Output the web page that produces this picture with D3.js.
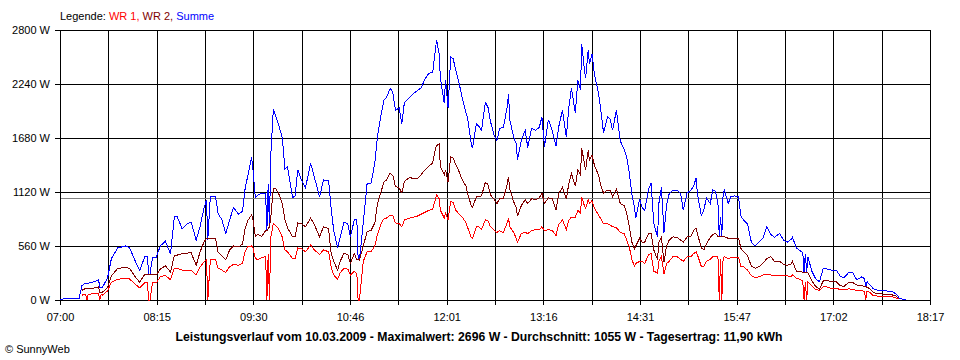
<!DOCTYPE html>
<html><head><meta charset="utf-8">
<script src="https://cdn.jsdelivr.net/npm/d3@7"></script>
<style>
body{margin:0;background:#fff}
svg{display:block}
text{font-family:"Liberation Sans",Arial,sans-serif;font-size:11px;fill:#000}
</style>
</head><body>
<svg id="chart" width="960" height="360"></svg>
<script>
// time in minutes since midnight
const times=[420,425,435,437,440,441,442,447,450,451,
452,453,457,460,465,471,474,478,482,486,
488,489,490,492,495,498,502,506,509,511,
515,518,522,526,529,532,534,535,537,541,
543,546,549,552,555,559,562,564,566,569,
570,572,574,577,580,581,582,583,584,586,
588,590,593,595,597,601,603,605,608,611,
615,618,622,625,629,631,633,636,638,641,
644,646,649,651,652,653,656,659,662,665,
667,670,672,674,677,679,681,684,686,688,
692,695,698,701,704,707,710,712,713,715,
716,719,720,722,724,726,728,730,733,736,
737,740,741,744,746,748,751,753,755,758,
760,762,765,768,769,770,773,775,776,779,
782,784,787,790,793,795,797,800,803,806,
808,811,814,816,818,821,823,825,826,828,
829,831,832,834,836,839,841,843,846,848,
850,853,856,859,861,863,865,867,868,871,
873,875,878,880,882,885,886,888,890,892,
894,897,900,903,905,908,911,913,915,916,
919,921,923,926,928,930,932,933,934,935,
936,937,940,942,945,948,950,952,955,958,
961,964,967,970,973,976,980,983,986,989,
990,993,996,998,999,1000,1001,1002,1005,1008,
1011,1014,1017,1020,1024,1027,1030,1034,1037,1040,
1044,1046,1047,1048,1050,1053,1057,1062,1067,1071,
1073,1076,1078];

const summe=[5,15,20,150,175,175,175,190,210,130,
135,130,230,430,540,560,545,420,305,450,
450,265,265,445,445,560,610,480,860,870,
740,780,810,620,760,950,1040,620,1078,1070,
900,830,690,830,960,890,920,1150,1280,1480,
1380,1060,1090,1110,1100,720,1200,760,1500,1975,
1900,1820,1680,1360,1380,1060,1080,1350,1240,1160,
1420,1270,1070,1245,1240,950,720,540,650,810,
790,655,830,830,420,415,800,1210,1210,1420,
1690,1935,2070,2100,2195,2150,1970,1990,1830,2050,
2100,2140,2170,2200,2290,2350,2360,2580,2696,2560,
2300,2040,2280,1990,2520,2500,2380,2280,2100,1935,
1900,1620,1575,1830,1800,1760,2050,2000,1850,1700,
1650,1780,1790,2000,2140,1870,1690,1620,1450,1660,
1760,1580,1780,1760,1790,1900,1590,1870,1760,1600,
1790,1970,1690,2000,2200,1935,2280,2180,2650,2400,
2300,2590,2450,2550,2330,2150,1950,1730,1900,1880,
1760,1970,1650,1560,1480,1320,1100,960,850,1050,
960,930,1150,1210,800,650,1000,1170,700,980,
1100,1140,1140,1100,930,1110,1140,1180,1265,1100,
880,930,1060,1000,1140,1130,1000,660,860,660,
1100,1140,1000,1070,1080,1070,860,830,790,600,
560,600,640,760,680,650,690,620,600,630,
650,540,510,490,285,480,285,450,300,220,
190,330,320,310,310,250,230,290,280,210,
240,220,140,190,160,115,100,95,90,60,
20,5,0];

const wr2=[null,null,null,100,120,120,120,125,135,80,
80,80,130,250,330,335,330,250,185,265,
265,265,265,262,262,320,355,290,460,465,
480,485,490,360,500,600,640,640,640,640,
500,460,415,520,560,550,580,740,820,880,
850,660,680,660,720,720,740,760,850,1160,
1150,1110,1000,830,750,655,660,800,790,760,
850,780,655,760,740,480,400,310,400,485,
470,380,480,420,420,415,560,710,720,800,
1000,1130,1220,1245,1315,1290,1180,1160,1110,1230,
1270,1260,1260,1300,1350,1390,1420,1560,1600,1620,
1380,1300,1350,1225,1485,1470,1400,1350,1245,1180,
1110,980,960,1070,1070,1080,1220,1200,1090,1040,
1000,1050,1050,1200,1280,1150,1020,960,870,980,
1040,1000,1050,1040,1060,1110,1000,1060,1050,930,
1100,1170,1050,1210,1310,1180,1350,1300,1575,1420,
1350,1550,1450,1500,1390,1300,1180,1110,1140,1140,
1070,1150,1000,980,900,760,600,530,560,640,
600,600,690,690,520,420,600,650,390,560,
620,655,650,620,600,655,660,720,745,690,
540,520,580,650,680,690,660,660,660,660,
655,655,640,640,640,640,530,500,460,350,
330,345,380,430,450,400,400,370,360,375,
400,300,300,285,285,285,285,280,200,140,
115,200,205,190,190,150,140,185,180,155,
150,140,140,130,120,75,65,60,55,40,
5,null,null];

const wr1=[null,null,null,50,60,0,60,65,70,0,
55,50,95,185,215,225,220,170,125,180,
180,0,0,180,180,240,255,210,330,330,
310,310,310,260,340,395,415,0,420,420,
330,310,285,345,370,360,380,500,550,560,
550,430,420,440,450,0,480,0,650,790,
770,740,650,520,500,430,430,540,530,500,
570,520,470,520,500,340,260,215,280,330,
320,260,300,270,0,0,400,500,500,560,
680,800,840,850,880,880,800,790,760,830,
850,860,870,890,910,930,940,1040,1090,1050,
930,850,900,830,1020,1010,930,900,860,800,
760,650,640,760,760,730,830,820,760,720,
700,720,700,800,850,760,700,640,600,690,
700,690,720,730,730,760,720,730,720,670,
780,830,730,830,860,860,930,900,1070,980,
950,1040,1000,1030,950,880,840,790,790,780,
760,750,700,690,620,550,420,350,380,400,
400,380,470,480,300,280,400,450,270,380,
400,450,450,420,400,450,450,480,500,470,
350,350,400,420,450,450,450,0,420,0,
440,450,430,440,440,440,345,345,310,250,
235,240,260,270,260,250,250,250,250,245,
260,225,215,195,0,190,0,190,150,110,
100,135,135,120,120,110,110,115,110,100,
95,90,0,90,80,45,40,40,35,20,
10,null,null];

const yTicks=[0,560,1120,1680,2240,2800];
const timeStart=420, timeEnd=1097; // 07:00 .. 18:17
const averageW=1055;
const legendItems=[
  {label:"WR 1, ",color:"#ff0000"},
  {label:"WR 2, ",color:"#800000"},
  {label:"Summe",color:"#0000ff"}
];
const seriesList=[
  {name:"Summe",values:summe,color:"#0000ff"},
  {name:"WR 2",values:wr2,color:"#800000"},
  {name:"WR 1",values:wr1,color:"#ff0000"}
];
const titleText="Leistungsverlauf vom 10.03.2009 - Maximalwert: 2696 W - Durchschnitt: 1055 W - Tagesertrag: 11,90 kWh";
const creditText="\u00A9 SunnyWeb";

const L=60,R=930,T=30,B=300;
const svg=d3.select("#chart");
const x=d3.scaleLinear().domain([timeStart,timeEnd]).range([L,R]);
const y=d3.scaleLinear().domain([0,2800]).range([B,T]);
const xTicks=d3.range(19).map(i=>timeStart+i*(timeEnd-timeStart)/18);
const fmtTime=m=>{const r=Math.round(m);return String(Math.floor(r/60)).padStart(2,"0")+":"+String(r%60).padStart(2,"0");};
const px=v=>Math.round(v)+0.5;

// grid
const grid=svg.append("g").attr("shape-rendering","crispEdges").attr("stroke","#000").attr("stroke-width",1);
grid.selectAll("line.v").data(xTicks).join("line").attr("class","v")
  .attr("x1",d=>px(x(d))).attr("x2",d=>px(x(d))).attr("y1",T).attr("y2",B);
grid.selectAll("line.h").data(yTicks).join("line").attr("class","h")
  .attr("y1",d=>px(y(d))).attr("y2",d=>px(y(d))).attr("x1",L).attr("x2",R+1);

// average line
svg.append("line").attr("shape-rendering","crispEdges")
  .attr("x1",L+1).attr("x2",R).attr("y1",px(y(averageW))).attr("y2",px(y(averageW)))
  .attr("stroke","#808080").attr("stroke-width",1);

// axes
const yAxis=svg.append("g").attr("transform",`translate(${L},0)`)
  .call(d3.axisLeft(y).tickValues(yTicks).tickSize(5).tickPadding(5).tickFormat(d=>d+" W"));
const xAxis=svg.append("g").attr("transform",`translate(0,${B})`)
  .call(d3.axisBottom(x).tickValues(xTicks).tickSize(5).tickPadding(8).tickFormat((d,i)=>i%2?"":fmtTime(d)));
[yAxis,xAxis].forEach(a=>{
  a.select(".domain").remove();
  a.attr("font-family",null).attr("font-size",null);
  a.selectAll("line").attr("stroke","#000").attr("shape-rendering","crispEdges");
  a.selectAll("text").attr("fill","#000");
});

// data lines
seriesList.forEach(s=>{
  const pts=times.map((t,i)=>({t,v:s.values[i]}));
  const line=d3.line().defined(d=>d.v!=null).x(d=>x(d.t)).y(d=>y(d.v));
  svg.append("path").datum(pts).attr("d",line)
    .attr("fill","none").attr("stroke",s.color).attr("stroke-width",1)
    .attr("shape-rendering","crispEdges");
});

// legend
const leg=svg.append("text").attr("x",L).attr("y",20);
leg.append("tspan").text("Legende: ").attr("fill","#000");
legendItems.forEach(it=>leg.append("tspan").text(it.label).attr("fill",it.color).style("fill",it.color));

// title
const title=svg.append("text").attr("x",479).attr("y",341).attr("text-anchor","middle")
  .style("font-weight","bold").style("font-size","12px").text(titleText);
const tl=title.node().getComputedTextLength();
if(Math.abs(tl-607)>3){title.attr("textLength",607).attr("lengthAdjust","spacingAndGlyphs");}

svg.append("text").attr("x",5).attr("y",353).text(creditText);
</script>
</body></html>
